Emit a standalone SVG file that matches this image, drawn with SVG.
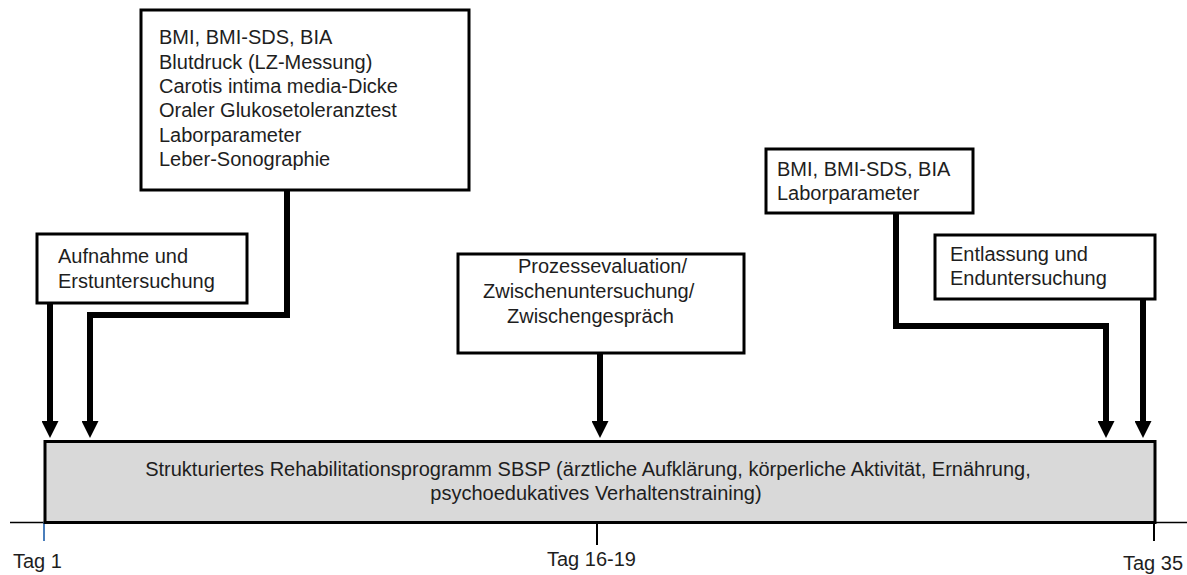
<svg xmlns="http://www.w3.org/2000/svg" width="1187" height="575" viewBox="0 0 1187 575">
<style>
  text { font-family: "Liberation Sans", Arial, sans-serif; font-size: 20px; fill: #1e1e1e; }
  .box { fill: #ffffff; stroke: #000000; stroke-width: 3; }
  .main { fill: #d9d9d9; stroke: #000000; stroke-width: 3; }
  .conn { fill: none; stroke: #000000; stroke-width: 6; stroke-linejoin: miter; marker-end: url(#head); }
  .axis { stroke: #000000; stroke-width: 1.5; fill: none; }
  .tick { stroke: #000000; stroke-width: 2; fill: none; }
  .tick1 { stroke: #4a7ebb; stroke-width: 2; fill: none; }
</style>
<defs>
  <marker id="head" viewBox="0 0 17 17" refX="7" refY="8.5" markerWidth="17" markerHeight="17" markerUnits="userSpaceOnUse" orient="auto">
    <path d="M0,0 L17,8.5 L0,17 z" fill="#000000"/>
  </marker>
</defs>
<rect width="1187" height="575" fill="#ffffff"/>

<g id="timeline">
  <line class="axis" x1="10" y1="522.5" x2="1187" y2="522.5"/>
  <line class="tick1" x1="44" y1="522" x2="44" y2="541"/>
  <line class="tick" x1="597" y1="522" x2="597" y2="545"/>
  <line class="tick" x1="1154" y1="522" x2="1154" y2="541"/>
  <text x="13" y="568">Tag 1</text>
  <text x="547" y="566">Tag 16-19</text>
  <text x="1123" y="570">Tag 35</text>
</g>

<g id="program">
  <rect class="main" x="45" y="441.5" width="1110" height="81"/>
  <text x="588" y="476" text-anchor="middle">Strukturiertes Rehabilitationsprogramm SBSP (ärztliche Aufklärung, körperliche Aktivität, Ernährung,</text>
  <text x="596" y="500" text-anchor="middle">psychoedukatives Verhaltenstraining)</text>
</g>

<g id="connectors">
  <path class="conn" d="M50,303 V428"/>
  <path class="conn" d="M287,190 V315 H90 V428"/>
  <path class="conn" d="M600,353 V428"/>
  <path class="conn" d="M896,213 V326 H1106 V428"/>
  <path class="conn" d="M1143,299 V428"/>
</g>

<g id="baseline-tests">
  <rect class="box" x="141" y="10" width="328" height="180"/>
  <text x="159" y="44">BMI, BMI-SDS, BIA</text>
  <text x="159" y="68.5">Blutdruck (LZ-Messung)</text>
  <text x="159" y="92.5">Carotis intima media-Dicke</text>
  <text x="159" y="117">Oraler Glukosetoleranztest</text>
  <text x="159" y="141.5">Laborparameter</text>
  <text x="159" y="166">Leber-Sonographie</text>
</g>

<g id="aufnahme">
  <rect class="box" x="37" y="234" width="210" height="69"/>
  <text x="58" y="263">Aufnahme und</text>
  <text x="58" y="288">Erstuntersuchung</text>
</g>

<g id="prozess">
  <rect class="box" x="458" y="254" width="286" height="99"/>
  <text x="518" y="273">Prozessevaluation/</text>
  <text x="483" y="298">Zwischenuntersuchung/</text>
  <text x="507" y="323">Zwischengespräch</text>
</g>

<g id="final-tests">
  <rect class="box" x="766" y="149" width="207" height="64"/>
  <text x="777" y="176">BMI, BMI-SDS, BIA</text>
  <text x="777" y="199.5">Laborparameter</text>
</g>

<g id="entlassung">
  <rect class="box" x="935" y="235" width="220" height="64"/>
  <text x="950" y="260.5">Entlassung und</text>
  <text x="950" y="285">Enduntersuchung</text>
</g>
</svg>
